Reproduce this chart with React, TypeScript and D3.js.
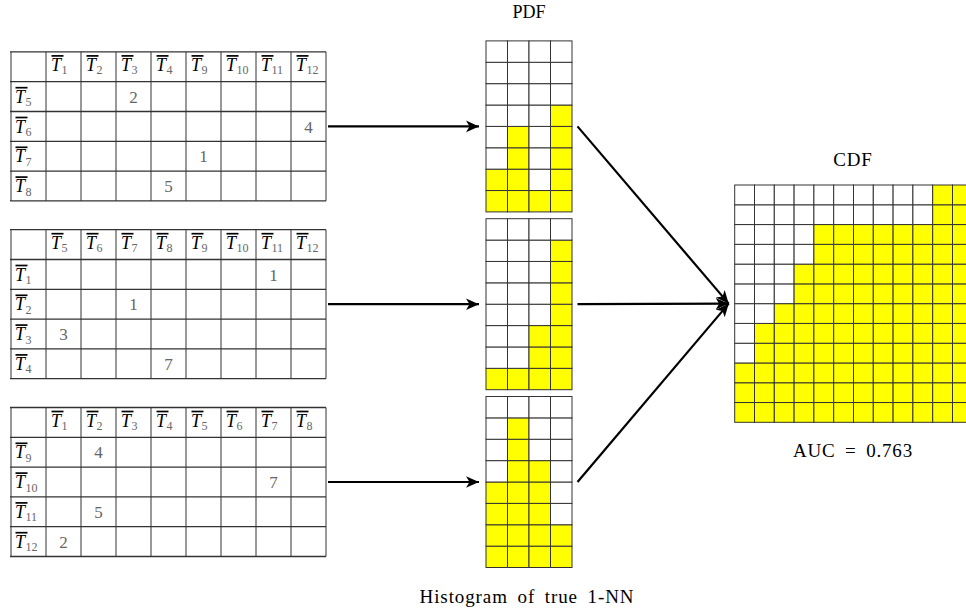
import React from 'react'
import * as d3 from 'd3'

const W = 966
const H = 612

// three blocks of the rank table: column ids, row ids, which column holds the
// true nearest neighbour for each row, and the rank written in that cell
const cols1 = [1, 2, 3, 4, 9, 10, 11, 12]
const rows1 = [5, 6, 7, 8]
const nnCol1 = [3, 12, 9, 4]
const rank1 = [2, 4, 1, 5]

const cols2 = [5, 6, 7, 8, 9, 10, 11, 12]
const rows2 = [1, 2, 3, 4]
const nnCol2 = [11, 7, 5, 8]
const rank2 = [1, 1, 3, 7]

const cols3 = [1, 2, 3, 4, 5, 6, 7, 8]
const rows3 = [9, 10, 11, 12]
const nnCol3 = [2, 7, 2, 1]
const rank3 = [4, 7, 5, 2]

// cumulative counts shown in the CDF grid (12 x 12)
const cdfCounts = [3, 5, 6, 8, 10, 10, 10, 10, 10, 10, 12, 12]

const pdfRows = 8
const cdfSize = 12

const blocks = [
  { cols: cols1, rows: rows1, nnCol: nnCol1, rank: rank1 },
  { cols: cols2, rows: rows2, nnCol: nnCol2, rank: rank2 },
  { cols: cols3, rows: rows3, nnCol: nnCol3, rank: rank3 },
]

const YELLOW = '#ffff00'
const LINE = '#333'
const FONT = '"Liberation Serif", "DejaVu Serif", serif'

const blockY = d3.scaleLinear().domain([0, 2]).range([126.4, 482])

const tableX = d3.scaleLinear().domain([0, 9]).range([11, 326])
const tableH = 149

const pdfX = d3.scaleLinear().domain([0, 4]).range([486, 572])
const pdfH = 171

const cdfX = d3.scaleLinear().domain([0, cdfSize]).range([734.7, 972.3])
const cdfY = d3.scaleLinear().domain([0, cdfSize]).range([422.3, 185])

const TLabel = ({ x, y, id }: { x: number; y: number; id: number }) => (
  <g transform={`translate(${x},${y})`}>
    <line x1={0.5} x2={12.5} y1={-15} y2={-15} stroke="#000" strokeWidth={1.7} />
    <text fontFamily={FONT} fontSize={18} fill="#000">
      <tspan fontStyle="italic">T</tspan>
      <tspan fontSize={12} fill="#666" dy={3.5} dx={0.5}>
        {id}
      </tspan>
    </text>
  </g>
)

const RankTable = ({ block, cy }: { block: any; cy: number }) => {
  const top = cy - tableH / 2
  const y = d3.scaleLinear().domain([0, 5]).range([top, top + tableH])
  const nCols = block.cols.length + 1
  return (
    <g>
      {d3.range(6).map((r) => (
        <line key={'h' + r} x1={tableX(0) - 1} x2={tableX(nCols)} y1={y(r)} y2={y(r)} stroke={LINE} strokeWidth={1.3} />
      ))}
      {d3.range(nCols + 1).map((c) => (
        <line key={'v' + c} x1={tableX(c)} x2={tableX(c)} y1={y(0)} y2={y(5)} stroke={LINE} strokeWidth={1} />
      ))}
      {block.cols.map((id: number, i: number) => (
        <TLabel key={'c' + id} x={tableX(i + 1) + 5} y={y(0) + 19} id={id} />
      ))}
      {block.rows.map((id: number, j: number) => (
        <TLabel key={'r' + id} x={tableX(0) + 4} y={y(j + 1) + 21} id={id} />
      ))}
      {block.rows.map((id: number, j: number) => {
        const ci = block.cols.indexOf(block.nnCol[j]) + 1
        return (
          <text
            key={'n' + id}
            x={(tableX(ci) + tableX(ci + 1)) / 2}
            y={y(j + 1) + 21}
            textAnchor="middle"
            fontFamily={FONT}
            fontSize={17}
            fill="#666"
          >
            {block.rank[j]}
          </text>
        )
      })}
    </g>
  )
}

const Pdf = ({ heights, cy }: { heights: number[]; cy: number }) => {
  const top = cy - pdfH / 2
  const y = d3.scaleLinear().domain([0, pdfRows]).range([top + pdfH, top])
  return (
    <g>
      {heights.map((h, c) =>
        d3.range(pdfRows).map((r) => (
          <rect
            key={c + '-' + r}
            x={pdfX(c)}
            y={y(r + 1)}
            width={pdfX(c + 1) - pdfX(c)}
            height={y(r) - y(r + 1)}
            fill={r < h ? YELLOW : '#fff'}
            stroke={LINE}
            strokeWidth={1}
          />
        ))
      )}
    </g>
  )
}

const Cdf = () => (
  <g>
    {cdfCounts.map((h, c) =>
      d3.range(cdfSize).map((r) => (
        <rect
          key={c + '-' + r}
          x={cdfX(c)}
          y={cdfY(r + 1)}
          width={cdfX(c + 1) - cdfX(c)}
          height={cdfY(r) - cdfY(r + 1)}
          fill={r < h ? YELLOW : '#fff'}
          stroke={LINE}
          strokeWidth={1}
        />
      ))
    )}
  </g>
)

export default function App() {
  const cdfMid = (cdfY(0) + cdfY(cdfSize)) / 2
  const arrowTo = cdfX(0) - 6
  return (
    <svg width={W} height={H} style={{ position: 'absolute', left: 0, top: 0, background: '#fff' }}>
      <defs>
        <marker id="head" markerUnits="userSpaceOnUse" markerWidth={16} markerHeight={16} viewBox="-14 -8 16 16" refX={0} refY={0} orient="auto">
          <path d="M0,0 L-13,-5.8 L-9.5,0 L-13,5.8 Z" fill="#000" />
        </marker>
      </defs>

      {blocks.map((b, i) => (
        <RankTable key={'t' + i} block={b} cy={blockY(i)} />
      ))}
      {blocks.map((b, i) => (
        <Pdf key={'p' + i} heights={b.rank} cy={blockY(i)} />
      ))}
      <Cdf />

      {blocks.map((b, i) => (
        <line key={'a' + i} x1={328} x2={479} y1={blockY(i)} y2={blockY(i)} stroke="#000" strokeWidth={2.2} markerEnd="url(#head)" />
      ))}
      {blocks.map((b, i) => (
        <line key={'d' + i} x1={577.5} x2={arrowTo} y1={blockY(i)} y2={cdfMid} stroke="#000" strokeWidth={2.2} markerEnd="url(#head)" />
      ))}

      <g fontFamily={FONT} fill="#000" textAnchor="middle">
        <text x={(pdfX(0) + pdfX(4)) / 2} y={18} fontSize={18}>PDF</text>
        <text x={853} y={166} fontSize={19} letterSpacing={0.8}>CDF</text>
        <text x={853} y={457} fontSize={19} letterSpacing={0.8} wordSpacing={4}>AUC = 0.763</text>
        <text x={527} y={603} fontSize={19} letterSpacing={0.9} wordSpacing={4}>Histogram of true 1-NN</text>
      </g>
    </svg>
  )
}
